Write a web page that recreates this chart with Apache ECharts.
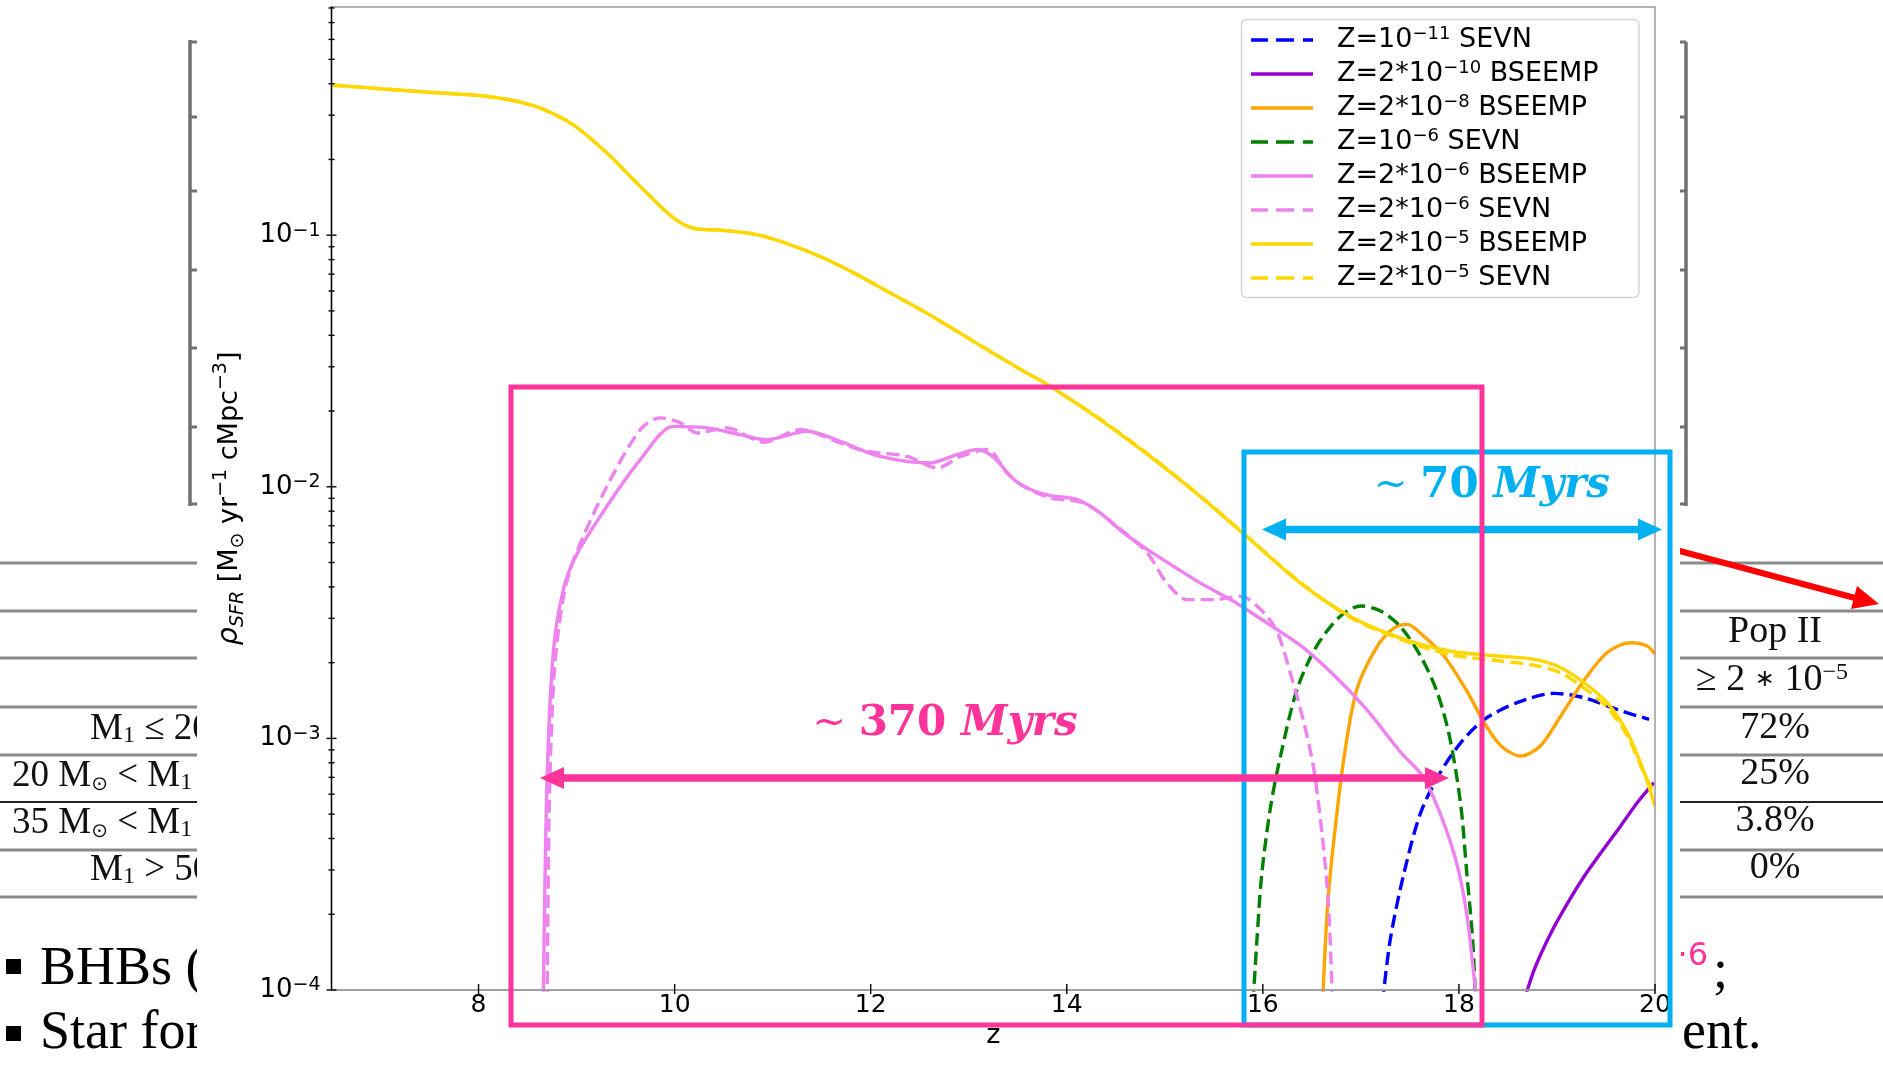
<!DOCTYPE html>
<html>
<head>
<meta charset="utf-8">
<script src="https://cdn.jsdelivr.net/npm/echarts@6/dist/echarts.min.js"></script>
<style>
html,body{margin:0;padding:0;background:#ffffff;}
#chart{width:1883px;height:1067px;}
</style>
</head>
<body>
<div id="chart"></div>
<script>
// ---------------- DATA ----------------
const X_MIN = 6.5, X_MAX = 20;
const Y_MIN = 1e-4, Y_MAX = 0.807;

const xTickValues = [8, 10, 12, 14, 16, 18, 20];
const yMajorTickValues = [1e-4, 1e-3, 1e-2, 1e-1];
const yMinorTickValues = [2e-4,3e-4,4e-4,5e-4,6e-4,7e-4,8e-4,9e-4,
  2e-3,3e-3,4e-3,5e-3,6e-3,7e-3,8e-3,9e-3,
  2e-2,3e-2,4e-2,5e-2,6e-2,7e-2,8e-2,9e-2,
  0.2,0.3,0.4,0.5,0.6,0.7,0.8];

const seriesNames = [
  'Z=10^-11 SEVN', 'Z=2*10^-10 BSEEMP', 'Z=2*10^-8 BSEEMP', 'Z=10^-6 SEVN',
  'Z=2*10^-6 BSEEMP', 'Z=2*10^-6 SEVN', 'Z=2*10^-5 BSEEMP', 'Z=2*10^-5 SEVN'
];

// Z=1e-11 SEVN (blue dashed)
const z_Z1e11_SEVN   = [17.22,17.30,17.44,17.61,17.81,18.02,18.26,18.60,18.97,19.28,19.62,19.94];
const rho_Z1e11_SEVN = [8.9e-5,1.59e-4,2.92e-4,5.07e-4,7.31e-4,9.62e-4,1.19e-3,1.39e-3,1.51e-3,1.45e-3,1.30e-3,1.19e-3];

// Z=2e-10 BSEEMP (purple)
const z_Z2e10_BSEEMP   = [18.66,18.77,18.94,19.11,19.28,19.45,19.65,19.82,19.99];
const rho_Z2e10_BSEEMP = [8.9e-5,1.21e-4,1.69e-4,2.22e-4,2.84e-4,3.52e-4,4.49e-4,5.56e-4,6.67e-4];

// Z=2e-8 BSEEMP (orange)
const z_Z2e8_BSEEMP   = [16.61,16.66,16.725,16.83,16.96,17.17,17.34,17.47,17.64,17.85,18.09,18.26,18.43,18.63,18.83,19.04,19.28,19.51,19.75,19.92,20.0];
const rho_Z2e8_BSEEMP = [8.9e-5,2.16e-4,3.97e-4,8.51e-4,1.57e-3,2.33e-3,2.75e-3,2.84e-3,2.55e-3,2.12e-3,1.52e-3,1.15e-3,9.33e-4,8.51e-4,9.33e-4,1.23e-3,1.71e-3,2.19e-3,2.40e-3,2.33e-3,2.16e-3];

// Z=1e-6 SEVN (green dashed)
const z_Z1e6_SEVN   = [15.90,15.94,15.99,16.08,16.18,16.35,16.55,16.79,17.0,17.20,17.40,17.61,17.78,17.91,18.02,18.08,18.14,18.17];
const rho_Z1e6_SEVN = [8.9e-5,1.59e-4,2.92e-4,5.38e-4,8.51e-4,1.57e-3,2.33e-3,3.06e-3,3.36e-3,3.21e-3,2.79e-3,2.12e-3,1.52e-3,9.91e-4,5.38e-4,2.92e-4,1.59e-4,8.9e-5];

// Z=2e-6 BSEEMP (violet solid)
const z_Z2e6_BSEEMP   = [8.66,8.70,8.765,8.87,9.0,9.31,9.65,9.99,10.33,10.67,10.94,11.35,11.69,12.03,12.37,12.61,12.88,13.09,13.26,13.46,13.63,13.83,14.11,14.34,14.58,14.82,15.09,15.36,15.70,16.04,16.39,16.72,17.06,17.41,17.63,17.81,17.98,18.08,18.15,18.18];
const rho_Z2e6_BSEEMP = [9.0e-5,7.08e-4,2.25e-3,3.98e-3,5.37e-3,8.38e-3,0.01282,0.01738,0.01714,0.01611,0.01538,0.01663,0.01517,0.01343,0.01262,0.01245,0.01343,0.01406,0.01303,0.01069,0.00975,0.00923,0.00889,0.00787,0.00656,0.00564,0.00483,0.00415,0.00351,0.00288,0.00233,0.00179,0.00130,0.000877,0.000708,0.000501,0.000316,0.000200,0.000117,0.0000891];

// Z=2e-6 SEVN (violet dashed)
const z_Z2e6_SEVN   = [8.70,8.72,8.77,8.86,8.97,9.31,9.65,9.85,10.06,10.23,10.53,10.91,11.28,11.69,11.96,12.37,12.68,12.92,13.19,13.39,13.56,13.83,14.17,14.51,14.82,15.02,15.23,15.50,15.77,16.01,16.15,16.28,16.42,16.52,16.61,16.67,16.71];
const rho_Z2e6_SEVN = [8.9e-5,5.01e-4,1.78e-3,3.55e-3,5.14e-3,0.01005,0.01687,0.01879,0.01795,0.01637,0.01714,0.01503,0.01687,0.01493,0.01384,0.01321,0.01189,0.01321,0.01406,0.01135,0.01005,0.00904,0.00863,0.00697,0.00546,0.00415,0.00356,0.00356,0.00367,0.00316,0.00263,0.00182,0.00115,0.000753,0.000397,0.000216,0.0000891];

// Z=2e-5 BSEEMP (gold solid)
const z_Z2e5_BSEEMP   = [6.5,7.0,7.5,8.0,8.35,8.63,8.97,9.31,9.65,9.99,10.19,10.50,10.84,11.18,11.52,11.86,12.20,12.54,12.88,13.22,13.56,13.83,14.34,14.85,15.36,15.87,16.38,16.89,17.40,17.92,18.43,18.77,19.04,19.28,19.51,19.72,19.89,20.0];
const rho_Z2e5_BSEEMP = [0.395,0.382,0.370,0.359,0.343,0.320,0.274,0.212,0.156,0.117,0.1067,0.1045,0.1005,0.0916,0.0811,0.0697,0.0589,0.0498,0.0415,0.0345,0.0288,0.0251,0.0185,0.0132,0.00916,0.00617,0.00415,0.00306,0.00251,0.00222,0.00212,0.00206,0.00191,0.00166,0.00139,0.00105,0.000731,0.000537];

// Z=2e-5 SEVN (gold dashed)
const z_Z2e5_SEVN   = [6.5,7.0,7.5,8.0,8.35,8.63,8.97,9.31,9.65,9.99,10.19,10.50,10.84,11.18,11.52,11.86,12.20,12.54,12.88,13.22,13.56,13.83,14.34,14.85,15.36,15.87,16.38,16.89,17.40,17.92,18.43,18.77,19.04,19.28,19.51,19.72,19.89,20.0];
const rho_Z2e5_SEVN = [0.395,0.382,0.370,0.359,0.343,0.320,0.274,0.212,0.156,0.117,0.1067,0.1045,0.1005,0.0916,0.0811,0.0697,0.0589,0.0498,0.0415,0.0345,0.0288,0.0251,0.0186,0.0133,0.00920,0.00620,0.00418,0.00303,0.00248,0.00215,0.00203,0.00195,0.00182,0.00158,0.00133,0.00102,0.000724,0.000603];

// ---------------- CHART ----------------
const pair = (zs, vs) => zs.map((z, i) => [z, vs[i]]);
const DASH = [13, 6];
const lineDefs = [
  {name: seriesNames[0], z: z_Z1e11_SEVN,   v: rho_Z1e11_SEVN,   color: '#0000ff', dash: true},
  {name: seriesNames[1], z: z_Z2e10_BSEEMP, v: rho_Z2e10_BSEEMP, color: '#9400d3', dash: false},
  {name: seriesNames[2], z: z_Z2e8_BSEEMP,  v: rho_Z2e8_BSEEMP,  color: '#ffa500', dash: false},
  {name: seriesNames[3], z: z_Z1e6_SEVN,    v: rho_Z1e6_SEVN,    color: '#008000', dash: true},
  {name: seriesNames[4], z: z_Z2e6_BSEEMP,  v: rho_Z2e6_BSEEMP,  color: '#ee82ee', dash: false},
  {name: seriesNames[5], z: z_Z2e6_SEVN,    v: rho_Z2e6_SEVN,    color: '#ee82ee', dash: true},
  {name: seriesNames[6], z: z_Z2e5_BSEEMP,  v: rho_Z2e5_BSEEMP,  color: '#ffd700', dash: false},
  {name: seriesNames[7], z: z_Z2e5_SEVN,    v: rho_Z2e5_SEVN,    color: '#ffd700', dash: true}
];

const lineSeries = lineDefs.map(d => ({
  type: 'line', name: d.name, data: pair(d.z, d.v),
  symbol: 'none', showSymbol: false, smooth: 0.3,
  clip: true, z: 2, silent: true,
  lineStyle: {color: d.color, width: 3.4, type: d.dash ? DASH : 'solid', cap: 'butt'},
  itemStyle: {color: d.color}
}));

function tickSeries(data, horizontal, half) {
  return {
    type: 'custom', silent: true, z: 6, clip: false,
    data: data,
    renderItem: (params, api) => {
      const p = api.coord([api.value(0), api.value(1)]);
      const shape = horizontal
        ? {x1: p[0] - half, y1: p[1], x2: p[0] + half, y2: p[1]}
        : {x1: p[0], y1: p[1] - half - 1, x2: p[0], y2: p[1] + half - 1};
      return {type: 'line', shape: shape, style: {stroke: '#000', lineWidth: 1.4}};
    }
  };
}

const FF = 'DejaVu Sans';
const SERIF = 'Liberation Serif';

// ---------------- slide / annotation graphics ----------------
function arrowH(x1, x2, y, color, shaft, headLen, headHalf, z) {
  return [
    {type: 'rect', z: z, shape: {x: x1 + headLen - 2, y: y - shaft / 2, width: (x2 - x1) - 2 * headLen + 4, height: shaft}, style: {fill: color}},
    {type: 'polygon', z: z, shape: {points: [[x1, y], [x1 + headLen, y - headHalf], [x1 + headLen, y + headHalf]]}, style: {fill: color}},
    {type: 'polygon', z: z, shape: {points: [[x2, y], [x2 - headLen, y - headHalf], [x2 - headLen, y + headHalf]]}, style: {fill: color}}
  ];
}
function sText(x, y, text, o) {
  o = o || {};
  return {
    type: 'text', z: o.z != null ? o.z : 0, x: x, y: y,
    style: {
      text: text, fill: o.fill || '#111', fontFamily: o.ff || SERIF, fontSize: o.fs || 37,
      fontWeight: o.fw || 'normal', fontStyle: o.fst || 'normal',
      align: o.align || 'left', verticalAlign: 'middle', rich: o.rich || {}
    }
  };
}
const serifRich = {
  s: {fontFamily: SERIF, fontSize: 24, verticalAlign: 'bottom', lineHeight: 30, fill: '#111'},
  o: {fontFamily: FF, fontSize: 20, verticalAlign: 'bottom', lineHeight: 26, fill: '#111'},
  p: {fontFamily: SERIF, fontSize: 24, verticalAlign: 'top', lineHeight: 20, fill: '#111'},
  a: {fontFamily: FF, fontSize: 24, fill: '#111'}
};

const graphics = [];
// slide table lines (left & right of the chart picture)
const tableLineYs = [563, 611, 658, 707, 755, 802, 850, 897];
tableLineYs.forEach(y => {
  const dark = (y === 802);
  graphics.push({type: 'line', z: 0, shape: {x1: 0, y1: y, x2: 200, y2: y}, style: {stroke: dark ? '#222' : '#8a8a8a', lineWidth: dark ? 2 : 3}});
  graphics.push({type: 'line', z: 0, shape: {x1: 1678, y1: y, x2: 1883, y2: y}, style: {stroke: dark ? '#222' : '#8a8a8a', lineWidth: dark ? 2 : 3}});
});
graphics.push(sText(90, 729, 'M{s|1} ≤ 20 M{o|⊙}', {rich: serifRich}));
graphics.push(sText(12, 776, '20 M{o|⊙} < M{s|1} ≤ 35 M{o|⊙}', {rich: serifRich}));
graphics.push(sText(12, 823, '35 M{o|⊙} < M{s|1} ≤ 50 M{o|⊙}', {rich: serifRich}));
graphics.push(sText(90, 870, 'M{s|1} > 50 M{o|⊙}', {rich: serifRich}));
graphics.push(sText(1775, 632, 'Pop II', {align: 'center', fs: 38}));
graphics.push(sText(1772, 680, '≥ 2 {a|∗} 10{p|−5}', {align: 'center', fs: 38, rich: serifRich}));
graphics.push(sText(1775, 728, '72%', {align: 'center', fs: 38}));
graphics.push(sText(1775, 774, '25%', {align: 'center', fs: 38}));
graphics.push(sText(1775, 821, '3.8%', {align: 'center', fs: 38}));
graphics.push(sText(1775, 868, '0%', {align: 'center', fs: 38}));
// bullet text
graphics.push({type: 'rect', z: 0, shape: {x: 6, y: 959, width: 15, height: 15}, style: {fill: '#000'}});
graphics.push({type: 'rect', z: 0, shape: {x: 6, y: 1026, width: 15, height: 15}, style: {fill: '#000'}});
graphics.push(sText(40, 970, 'BHBs (Z', {fs: 54, fill: '#000'}));
graphics.push(sText(40, 1034, 'Star for', {fs: 54, fill: '#000'}));
graphics.push(sText(1682, 1034, 'ent.', {fs: 54, fill: '#000'}));
graphics.push(sText(1713, 973, ';', {fs: 54, fill: '#000'}));
graphics.push(sText(1708, 957, '·6', {fs: 32, fill: '#ff3399', align: 'right', ff: 'DejaVu Sans'}));
// grey brackets of the slide picture underneath
const bracketYs = [42, 117, 191, 270, 348, 427, 504];
graphics.push({type: 'line', z: 0, shape: {x1: 190, y1: 40, x2: 190, y2: 506}, style: {stroke: '#707070', lineWidth: 3.5}});
graphics.push({type: 'line', z: 0, shape: {x1: 1686, y1: 42, x2: 1686, y2: 506}, style: {stroke: '#707070', lineWidth: 3.5}});
bracketYs.forEach(y => {
  graphics.push({type: 'line', z: 0, shape: {x1: 190, y1: y, x2: 200, y2: y}, style: {stroke: '#707070', lineWidth: 3}});
  graphics.push({type: 'line', z: 0, shape: {x1: 1676, y1: y, x2: 1686, y2: y}, style: {stroke: '#707070', lineWidth: 3}});
});
// red arrow on the right
graphics.push({type: 'line', z: 0, shape: {x1: 1676, y1: 550, x2: 1855, y2: 598}, style: {stroke: '#ff0000', lineWidth: 6}});
graphics.push({type: 'polygon', z: 0, shape: {points: [[1879, 604], [1851, 609], [1857, 586]]}, style: {fill: '#ff0000'}});
// small dark red mark on top
graphics.push({type: 'rect', z: 0, shape: {x: 955, y: 0, width: 22, height: 2.5}, style: {fill: '#8a1c30'}});
// white picture of the chart covering the slide
graphics.push({type: 'rect', z: 1, shape: {x: 197, y: 0, width: 1483, height: 1050}, style: {fill: '#ffffff'}});
// legend frame
graphics.push({type: 'rect', z: 3, shape: {x: 1241.5, y: 19.5, width: 397.5, height: 278, r: 5}, style: {fill: 'rgba(255,255,255,0.85)', stroke: '#d6d6d6', lineWidth: 1.5}});

// annotation: blue box, arrow and text
const blueC = '#00b0f0', pinkC = '#ff3399';
graphics.push({type: 'rect', z: 20, shape: {x: 1244, y: 452, width: 426, height: 573}, style: {fill: 'none', stroke: blueC, lineWidth: 5}});
arrowH(1262, 1662, 529.5, blueC, 7.5, 24, 11, 20).forEach(g => graphics.push(g));
const annRich = (c) => ({
  tl: {fontFamily: 'DejaVu Serif', fontSize: 40, fontWeight: 'normal', fill: c, lineHeight: 50},
  n: {fontFamily: 'DejaVu Serif', fontSize: 42, fontWeight: 'bold', fill: c, lineHeight: 50},
  it: {fontFamily: 'DejaVu Serif', fontSize: 42, fontWeight: 'bold', fontStyle: 'italic', fill: c, lineHeight: 50}
});
graphics.push({type: 'text', z: 21, x: 1492, y: 486, style: {text: '{tl|~ }{n|70 }{it|Myrs}', align: 'center', verticalAlign: 'middle', rich: annRich(blueC)}});
// annotation: pink box, arrow and text (on top)
graphics.push({type: 'rect', z: 22, shape: {x: 511, y: 387, width: 971, height: 638}, style: {fill: 'none', stroke: pinkC, lineWidth: 5}});
arrowH(540, 1449, 778, pinkC, 7.5, 24, 11, 22).forEach(g => graphics.push(g));
graphics.push({type: 'text', z: 23, x: 945, y: 724, style: {text: '{tl|~ }{n|370 }{it|Myrs}', align: 'center', verticalAlign: 'middle', rich: annRich(pinkC)}});

// legend icons (matplotlib-like line samples)
const ICON_SOLID = 'path://M0,0H62V4H0Z';
const ICON_DASH = 'path://M0,0H17V4H0Z M25,0H43V4H25Z M52,0H62V4H52Z';

// ---------------- OPTION ----------------
const chart = echarts.init(document.getElementById('chart'), null, {renderer: 'canvas'});
const option = {
  animation: false,
  backgroundColor: '#ffffff',
  grid: {left: 331.5, right: 228, top: 7, bottom: 77, show: true, borderColor: '#9a9a9a', borderWidth: 1.5,
         z: 3, containLabel: false, outerBoundsMode: 'none'},
  legend: {
    orient: 'vertical', left: 1251, top: 25, padding: 0, z: 5,
    itemWidth: 62, itemHeight: 3.5, itemGap: 4, symbolKeepAspect: false,
    data: seriesNames.map((n, i) => ({name: n, icon: lineDefs[i].dash ? ICON_DASH : ICON_SOLID})),
    selectedMode: false,
    formatter: (name) => {
      const m = name.match(/^(.*?)\^(-?\d+)(.*)$/);
      return '{g|}{t|' + m[1] + '}{s|' + m[2].replace('-', '\u2212') + '}{t|' + m[3] + '}';
    },
    textStyle: {
      fontFamily: FF, fontSize: 27, color: '#000', lineHeight: 30,
      rich: {
        g: {width: 19},
        t: {fontFamily: FF, fontSize: 27, lineHeight: 30, color: '#000'},
        s: {fontFamily: FF, fontSize: 18, lineHeight: 17, verticalAlign: 'top', color: '#000'}
      }
    }
  },
  xAxis: {
    type: 'value', min: X_MIN, max: X_MAX, splitNumber: 7, z: 5,
    axisLine: {onZero: false, lineStyle: {color: '#9a9a9a', width: 1.5}},
    axisTick: {show: false}, splitLine: {show: false},
    axisLabel: {fontFamily: FF, fontSize: 25, color: '#000', margin: 3,
                formatter: (v) => (Math.abs(v % 2) < 1e-9 ? String(v) : '')},
    name: 'z', nameLocation: 'middle', nameGap: 32, nameMoveOverlap: false,
    nameTextStyle: {fontFamily: FF, fontSize: 27, color: '#000'}
  },
  yAxis: {
    type: 'log', logBase: 10, min: Y_MIN, max: Y_MAX, z: 5,
    axisLine: {onZero: false, lineStyle: {color: '#000', width: 1.4}},
    axisTick: {show: false}, splitLine: {show: false}, minorTick: {show: false},
    axisLabel: {
      margin: 11,
      formatter: (v) => {
        const l = Math.log10(v), e = Math.round(l);
        if (Math.abs(l - e) > 1e-6) return '';
        return '{b|10}{s|' + (e < 0 ? '\u2212' : '') + Math.abs(e) + '}';
      },
      rich: {
        b: {fontFamily: FF, fontSize: 26, lineHeight: 28, color: '#000'},
        s: {fontFamily: FF, fontSize: 19, lineHeight: 14, verticalAlign: 'top', color: '#000'}
      }
    },
    name: '{i|\u03c1}{sb|SFR}{t| [M}{sb|\u2299}{t| yr}{sp|\u22121}{t| cMpc}{sp|\u22123}{t|]}',
    nameLocation: 'middle', nameRotate: 90, nameGap: 84, nameMoveOverlap: false,
    nameTextStyle: {
      fontFamily: FF, fontSize: 27, color: '#000',
      rich: {
        i: {fontFamily: FF, fontStyle: 'italic', fontSize: 29, lineHeight: 36, color: '#000'},
        sb: {fontFamily: FF, fontStyle: 'italic', fontSize: 19, lineHeight: 20, verticalAlign: 'bottom', color: '#000'},
        t: {fontFamily: FF, fontSize: 27, lineHeight: 36, color: '#000'},
        sp: {fontFamily: FF, fontSize: 19, lineHeight: 18, verticalAlign: 'top', color: '#000'}
      }
    }
  },
  graphic: {elements: graphics},
  series: lineSeries.concat([
    tickSeries(yMajorTickValues.map(v => [X_MIN, v]), true, 5),
    tickSeries(yMinorTickValues.map(v => [X_MIN, v]), true, 3),
    tickSeries(xTickValues.map(v => [v, Y_MIN]), false, 5)
  ])
};
chart.setOption(option);
</script>
</body>
</html>
